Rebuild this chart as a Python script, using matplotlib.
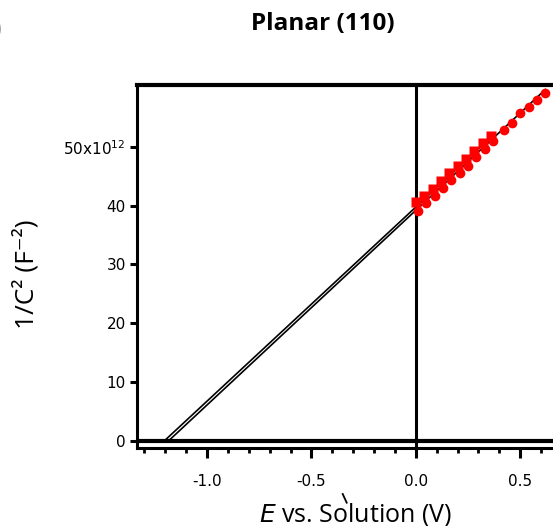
import numpy as np
import matplotlib.pyplot as plt
from matplotlib.lines import Line2D

# data, 1/C^2 in units of 1e12 F^-2
sq_x = [0.00, 0.04, 0.08, 0.12, 0.16, 0.20, 0.24, 0.28, 0.32, 0.36]
sq_y = [40.6, 41.7, 42.9, 44.2, 45.6, 46.8, 47.9, 49.3, 50.6, 51.9]
ci_x = [0.01, 0.05, 0.09, 0.13, 0.17, 0.21, 0.25, 0.29, 0.33, 0.37, 0.42, 0.46, 0.50, 0.54, 0.58, 0.62]
ci_y = [39.0, 40.5, 41.7, 43.0, 44.3, 45.6, 46.7, 48.2, 49.6, 50.9, 52.9, 54.1, 55.8, 56.7, 58.0, 59.1]
# linear fits (Mott-Schottky)
fit_sq = (33.0, 39.75)
fit_ci = (33.1, 39.2)
x_ticks = [-1.0, -0.5, 0.0, 0.5]
y_ticks = [0, 10, 20, 30, 40, 50]
y_ticklabels = ['0', '10', '20', '30', '40', '50x10$^{12}$']

plt.rcParams['mathtext.fontset'] = 'dejavusans'
fam = ['Open Sans', 'DejaVu Sans']

fig = plt.figure(figsize=(5.53, 5.26), dpi=100)
ax = fig.add_axes([137/553, 78/526, 425/553, 363/526])

xs = np.array([-fit_sq[1]/fit_sq[0], 0.37])
ax.plot(xs, fit_sq[0]*xs + fit_sq[1], color='black', lw=1.2, zorder=2)
xc = np.array([-fit_ci[1]/fit_ci[0], 0.62])
ax.plot(xc, fit_ci[0]*xc + fit_ci[1], color='black', lw=1.2, zorder=2)

ax.plot(ci_x, ci_y, 'o', color='#ff0000', ms=7, mec='none', zorder=3)
ax.plot(sq_x, sq_y, 's', color='#ff0000', ms=6.7, mec='none', zorder=3)

ax.axhline(0, color='black', lw=3, zorder=1)
ax.axvline(0, color='black', lw=2.2, zorder=1)

ax.set_xlim(-1.335, 0.70)
ax.set_ylim(-1.2, 60.5)

for s in ['left', 'bottom']:
    ax.spines[s].set_linewidth(2.2)
ax.spines['top'].set_linewidth(3)
ax.spines['right'].set_visible(False)

ax.set_xticks(x_ticks)
ax.set_xticklabels(['-1.0', '-0.5', '0.0', '0.5'])
ax.set_xticks(np.arange(-1.3, 0.71, 0.1), minor=True)
ax.set_yticks(y_ticks)
ax.set_yticklabels(y_ticklabels)
ax.tick_params(axis='x', which='major', length=7, width=2.2, direction='out', labelsize=11, pad=12)
ax.tick_params(axis='x', which='minor', length=3.5, width=2, direction='out')
ax.tick_params(axis='y', which='major', length=5, width=2.2, direction='out', labelsize=11, pad=3)

fig.text(323/553, 1 - 24/526, 'Planar (110)', family=fam, weight='bold', fontsize=17.5,
         ha='center', va='center')
fig.text(26/553, 1 - 274/526, '1/C\u00b2 (F\u207b\u00b2)', family=fam, fontsize=19,
         rotation=90, ha='center', va='center')
fig.text(355/553, 1 - 514/526, '$\\mathit{E}$ vs. Solution (V)', family=fam, fontsize=18,
         ha='center', va='center')
fig.text(-5/553, 1 - 29/526, ')', family=fam, fontsize=14, ha='left', va='center', color='#aaaaaa')
fig.add_artist(Line2D([342.7/553, 346.7/553], [1 - 494/526, 1 - 502.7/526], color='black', lw=1.3))

fig.savefig('out.png', dpi=100)
